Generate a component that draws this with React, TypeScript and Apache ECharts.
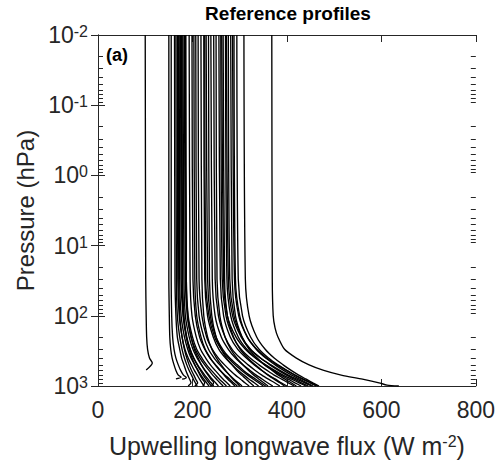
import React, { useEffect, useRef } from "react";
import * as echarts from "echarts";

const FONT = "'Liberation Sans', Arial, Helvetica, sans-serif";
const AX = "#262626";

// Axis ticks
const xTicks = [0, 200, 400, 600, 800];
const yDecades = [0.01, 0.1, 1, 10, 100, 1000];
const yMinorTicks = [
  0.02, 0.03, 0.04, 0.05, 0.06, 0.07, 0.08, 0.09,
  0.2, 0.3, 0.4, 0.5, 0.6, 0.7, 0.8, 0.9,
  2, 3, 4, 5, 6, 7, 8, 9,
  20, 30, 40, 50, 60, 70, 80, 90,
  200, 300, 400, 500, 600, 700, 800, 900,
];

// Shared pressure levels (hPa) for the standard profiles
const levels = [0.01, 30, 100, 200, 300, 400, 500, 600, 700, 800, 900, 1000];

// Upwelling flux (W m-2) at each level, one row per profile
const fluxProfiles: number[][] = [
  [162, 163, 165, 168, 173, 177, 182, 186, 190, 194, 197, 191],
  [165, 166, 168, 173, 178, 183, 188, 193, 198, 202, 206, 210],
  [168, 169, 172, 178, 184, 191, 198, 204, 210, 215, 220, 225],
  [170, 171, 173, 178, 183, 188, 193, 198, 203, 207, 211, 205],
  [172, 173, 176, 183, 190, 197, 205, 212, 218, 224, 230, 235],
  [175, 176, 180, 187, 195, 203, 211, 219, 226, 233, 239, 245],
  [177, 178, 181, 188, 195, 202, 210, 217, 223, 229, 235, 240],
  [178, 179, 182, 187, 193, 199, 205, 211, 216, 221, 226, 222],
  [180, 182, 185, 193, 201, 210, 219, 227, 235, 242, 249, 255],
  [183, 185, 189, 197, 206, 216, 226, 235, 243, 251, 258, 265],
  [185, 187, 191, 200, 209, 220, 230, 240, 249, 257, 265, 272],
  [186, 187, 190, 197, 204, 212, 219, 226, 233, 239, 245, 240],
  [193, 195, 199, 208, 217, 228, 238, 248, 257, 265, 273, 280],
  [199, 201, 206, 215, 226, 237, 249, 259, 269, 279, 287, 295],
  [203, 205, 209, 218, 227, 238, 248, 258, 267, 275, 283, 290],
  [207, 209, 214, 224, 234, 246, 258, 269, 279, 288, 297, 305],
  [212, 214, 220, 230, 242, 255, 268, 280, 291, 302, 311, 320],
  [218, 220, 224, 232, 241, 251, 261, 270, 278, 286, 294, 300],
  [224, 226, 232, 244, 256, 270, 284, 297, 309, 320, 331, 340],
  [226, 228, 235, 247, 261, 276, 290, 304, 317, 329, 340, 350],
  [229, 232, 238, 250, 264, 279, 295, 308, 321, 334, 345, 355],
  [234, 236, 241, 250, 261, 272, 284, 294, 304, 314, 322, 330],
  [239, 242, 248, 261, 276, 291, 307, 322, 335, 348, 359, 370],
  [245, 248, 255, 269, 284, 301, 318, 333, 347, 361, 374, 385],
  [250, 252, 258, 269, 281, 294, 307, 319, 330, 341, 351, 360],
  [256, 259, 266, 280, 296, 314, 331, 347, 361, 376, 388, 400],
  [260, 263, 271, 286, 303, 322, 341, 358, 373, 389, 403, 415],
  [262, 266, 274, 292, 312, 333, 355, 374, 392, 410, 426, 440],
  [265, 268, 274, 287, 301, 317, 333, 347, 360, 373, 385, 395],
  [270, 273, 281, 297, 315, 334, 353, 371, 387, 403, 417, 430],
  [272, 276, 285, 303, 322, 344, 366, 385, 403, 421, 438, 452],
  [276, 279, 288, 305, 323, 344, 364, 382, 399, 416, 431, 445],
  [281, 284, 291, 305, 320, 337, 353, 369, 382, 396, 409, 420],
  [285, 289, 298, 316, 336, 357, 379, 399, 417, 435, 452, 466],
  [288, 291, 300, 316, 335, 355, 375, 393, 410, 427, 442, 455],
  [294, 297, 306, 323, 341, 361, 381, 400, 417, 433, 449, 462],
  [309, 312, 320, 336, 354, 373, 392, 409, 425, 441, 455, 468],
];

// Profiles with their own pressure levels (high terrain / warm profile)
const highTerrainP = [0.01, 30, 100, 200, 300, 400, 470, 590];
const highTerrainF = [100, 101, 102, 103, 105, 109, 115, 102];
const coldA_P = [0.01, 30, 100, 200, 300, 400, 500, 600, 700, 750, 790];
const coldA_F = [150, 150, 151, 152, 154, 157, 161, 165, 170, 176, 165];
const coldB_P = [0.01, 30, 100, 200, 300, 400, 500, 600, 700, 760, 800];
const coldB_F = [155, 155, 156, 158, 161, 165, 170, 175, 181, 187, 178];
const warmP = [0.01, 30, 100, 150, 200, 300, 400, 500, 600, 700, 800, 900, 970, 1000];
const warmF = [368, 369, 371, 375, 381, 395, 420, 447, 478, 515, 560, 595, 612, 637];

export default function App() {
  const ref = useRef<HTMLDivElement>(null);
  useEffect(() => {
    if (!ref.current) return;
    const chart = echarts.init(ref.current, undefined, { renderer: "svg" });

    const lineStyle = { color: "#000", width: 1.35 };
    const mk = (data: number[][]) => ({
      type: "line",
      data,
      symbol: "none",
      showSymbol: false,
      smooth: 0.25,
      lineStyle,
      silent: true,
      z: 2,
    });
    const series: any[] = [];
    series.push(mk(highTerrainP.map((p, i) => [highTerrainF[i], p])));
    series.push(mk(coldA_P.map((p, i) => [coldA_F[i], p])));
    series.push(mk(coldB_P.map((p, i) => [coldB_F[i], p])));
    fluxProfiles.forEach((row) => series.push(mk(levels.map((p, i) => [row[i], p]))));
    series.push(mk(warmP.map((p, i) => [warmF[i], p])));

    const xMin = xTicks[0];
    const xMax = xTicks[xTicks.length - 1];

    const yLabelFmt = (v: number) => {
      const e = Math.round(Math.log10(v));
      return `{b|10}{s|${e}}`;
    };
    const yRich = {
      b: { fontSize: 23, fontFamily: FONT, color: AX, lineHeight: 23, padding: [9, 0, 0, 0], verticalAlign: "bottom" },
      s: { fontSize: 16, fontFamily: FONT, color: AX, lineHeight: 16, verticalAlign: "top" },
    };

    const axLine = { show: true, lineStyle: { color: AX, width: 1 } };
    const tick = { show: true, inside: true, length: 7, lineStyle: { color: AX, width: 1 } };

    const textGraphics: any[] = [
      {
        type: "text",
        x: 288,
        y: 13,
        style: {
          text: "Reference profiles",
          font: `bold 19px ${FONT}`,
          fill: "#000",
          textAlign: "center",
          textVerticalAlign: "middle",
        },
      },
      {
        type: "text",
        x: 106,
        y: 46,
        style: { text: "(a)", font: `bold 18px ${FONT}`, fill: "#000", textAlign: "left", textVerticalAlign: "top" },
      },
    ];

    chart.setOption({
      animation: false,
      grid: { left: 98, right: 21, top: 35, bottom: 82 },
      xAxis: [
        {
          type: "value",
          min: xMin,
          max: xMax,
          interval: 200,
          position: "bottom",
          axisLine: axLine,
          axisTick: tick,
          splitLine: { show: false },
          axisLabel: { fontSize: 23, fontFamily: FONT, color: AX, margin: 12 },
          name: "{a|Upwelling longwave flux (W m}{s|-2}{a|)}",
          nameLocation: "middle",
          nameGap: 47,
          nameTextStyle: {
            rich: {
              a: { fontSize: 25, fontFamily: FONT, color: AX, lineHeight: 25, padding: [7, 0, 0, 0], verticalAlign: "bottom" },
              s: { fontSize: 16, fontFamily: FONT, color: AX, lineHeight: 16, verticalAlign: "top" },
            },
          },
        },
        {
          type: "value",
          min: xMin,
          max: xMax,
          interval: 200,
          position: "top",
          axisLine: axLine,
          axisTick: tick,
          axisLabel: { show: false },
          splitLine: { show: false },
        },
      ],
      yAxis: [
        {
          type: "log",
          logBase: 10,
          min: yDecades[0],
          max: yDecades[yDecades.length - 1],
          inverse: true,
          position: "left",
          axisLine: axLine,
          axisTick: tick,
          splitLine: { show: false },
          axisLabel: { formatter: yLabelFmt, rich: yRich, margin: 10 },
          name: "Pressure (hPa)",
          nameLocation: "middle",
          nameGap: 60,
          nameTextStyle: { fontSize: 24, fontFamily: FONT, color: AX },
        },
        {
          type: "log",
          logBase: 10,
          min: yDecades[0],
          max: yDecades[yDecades.length - 1],
          inverse: true,
          position: "right",
          axisLine: axLine,
          axisTick: tick,
          axisLabel: { show: false },
          splitLine: { show: false },
        },
      ],
      graphic: textGraphics,
      series,
    });

    // Minor log ticks (2..9 per decade) on both vertical edges, positioned via the axis scales
    const minorTicks: any[] = [];
    yMinorTicks.forEach((p) => {
      const l = chart.convertToPixel({ xAxisIndex: 0, yAxisIndex: 0 } as any, [xMin, p]) as number[];
      const r = chart.convertToPixel({ xAxisIndex: 0, yAxisIndex: 0 } as any, [xMax, p]) as number[];
      if (!l || !r) return;
      const y = Math.round(l[1]) + 0.5;
      minorTicks.push({
        type: "line",
        silent: true,
        z: 50,
        shape: { x1: l[0], y1: y, x2: l[0] + 5, y2: y },
        style: { stroke: AX, lineWidth: 1 },
      });
      minorTicks.push({
        type: "line",
        silent: true,
        z: 50,
        shape: { x1: r[0] - 5, y1: y, x2: r[0], y2: y },
        style: { stroke: AX, lineWidth: 1 },
      });
    });
    chart.setOption({ graphic: [...textGraphics, ...minorTicks] });

    return () => chart.dispose();
  }, []);
  return <div ref={ref} style={{ position: "absolute", left: 0, top: 0, width: 498, height: 468 }} />;
}
